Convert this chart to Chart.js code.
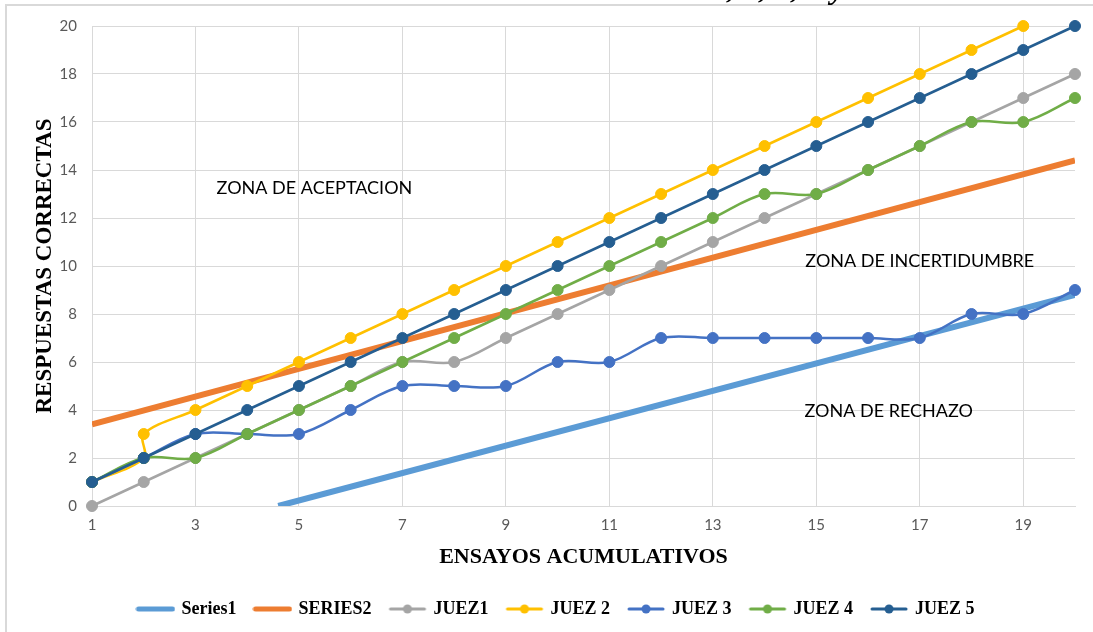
<!DOCTYPE html>
<html>
<head>
<meta charset="utf-8">
<script src="https://cdn.jsdelivr.net/npm/chart.js@4.4.1/dist/chart.umd.min.js"></script>
<style>
html, body { margin: 0; padding: 0; background: #fff; }
#wrap { width: 1093px; height: 632px; }
</style>
</head>
<body>
<div id="wrap"><canvas id="chart" width="1093" height="632"></canvas></div>
<script>
// ensayos (eje x) y ticks
var ensayos = [1,2,3,4,5,6,7,8,9,10,11,12,13,14,15,16,17,18,19,20]
var xTicks = [1,3,5,7,9,11,13,15,17,19]

// lineas de decision
var series1X = [4.6, 20]
var series1Y = [0, 8.8]
var series2X = [1, 20]
var series2Y = [3.4, 14.4]

// respuestas correctas por juez
var juez1 = [0,1,2,3,4,5,6,6,7,8,9,10,11,12,13,14,15,16,17,18]
var juez2X = [1,2,2,3,4,5,6,7,8,9,10,11,12,13,14,15,16,17,18,19]
var juez2 = [1,2,3,4,5,6,7,8,9,10,11,12,13,14,15,16,17,18,19,20]
var juez3 = [1,2,3,3,3,4,5,5,5,6,6,7,7,7,7,7,7,8,8,9]
var juez4 = [1,2,2,3,4,5,6,7,8,9,10,11,12,13,13,14,15,16,16,17]
var juez5 = [1,2,3,4,5,6,7,8,9,10,11,12,13,14,15,16,17,18,19,20]

var zonas = [
    { text: 'ZONA DE ACEPTACION', x: 5.3, y: 13.25 },
    { text: 'ZONA DE INCERTIDUMBRE', x: 17.0, y: 10.2 },
    { text: 'ZONA DE RECHAZO', x: 16.4, y: 3.95 }
]

function pts(xs, ys) {
    return ys.map(function(y, i) { return { x: xs[i], y: y } })
}

function juezDs(label, color, xs, ys) {
    return {
        label: label,
        data: pts(xs, ys),
        borderColor: color,
        backgroundColor: color,
        borderWidth: 2.5,
        pointRadius: 5.5,
        pointBackgroundColor: color,
        pointBorderColor: color,
        pointBorderWidth: 1,
        tension: 0.35,
        clip: false,
        marker: true
    }
}

function lineDs(label, color, xs, ys) {
    return {
        label: label,
        data: pts(xs, ys),
        borderColor: color,
        backgroundColor: color,
        borderWidth: 6,
        pointRadius: 0,
        tension: 0,
        marker: false
    }
}

var datasets = [
    lineDs('Series1', '#5B9BD5', series1X, series1Y),
    lineDs('SERIES2', '#ED7D31', series2X, series2Y),
    juezDs('JUEZ1', '#A5A5A5', ensayos, juez1),
    juezDs('JUEZ 2', '#FFC000', juez2X, juez2),
    juezDs('JUEZ 3', '#4472C4', ensayos, juez3),
    juezDs('JUEZ 4', '#70AD47', ensayos, juez4),
    juezDs('JUEZ 5', '#255E91', ensayos, juez5)
]
// later series drawn on top, like the original
datasets.forEach(function(ds, i) { ds.order = datasets.length - i })

function legendIcon(color, width, marker) {
    var c = document.createElement('canvas')
    c.width = 40
    c.height = 14
    var g = c.getContext('2d')
    g.strokeStyle = color
    g.lineWidth = width
    g.lineCap = 'round'
    g.beginPath()
    g.moveTo(3, 7)
    g.lineTo(37, 7)
    g.stroke()
    if (marker) {
        g.fillStyle = color
        g.beginPath()
        g.arc(20, 7, 4.5, 0, Math.PI * 2)
        g.fill()
    }
    return c
}
var icons = datasets.map(function(ds) {
    return legendIcon(ds.borderColor, ds.marker ? 3 : 5, ds.marker)
})

var marco = {
    id: 'marco',
    afterLayout: function(chart) {
        // the legend sits a bit right of centre in the original
        chart.legend.left += 38
    },
    beforeDraw: function(chart) {
        var c = chart.ctx
        c.save()
        c.fillStyle = '#fff'
        c.fillRect(0, 0, chart.width, chart.height)
        c.strokeStyle = '#d9d9d9'
        c.lineWidth = 2
        c.beginPath()
        c.moveTo(6, chart.height)
        c.lineTo(6, 5)
        c.lineTo(chart.width, 5)
        c.stroke()
        c.restore()
    },
    afterDraw: function(chart) {
        var c = chart.ctx
        var xs = chart.scales.x
        var ys = chart.scales.y
        c.save()
        c.fillStyle = '#000'
        c.font = '18px Lato'
        c.textAlign = 'center'
        c.textBaseline = 'middle'
        zonas.forEach(function(z) {
            c.fillText(z.text, xs.getPixelForValue(z.x), ys.getPixelForValue(z.y))
        })
        // titulo del documento, cortado por el borde superior
        c.font = 'italic bold 32px "Liberation Serif"'
        c.textAlign = 'left'
        c.textBaseline = 'alphabetic'
        c.fillText('1, 2, 3, 4 y 5', 711, -2.5)
        c.restore()
    }
}

var ctx = document.getElementById('chart').getContext('2d')
var chart = new Chart(ctx, {
    type: 'line',
    data: { datasets: datasets },
    plugins: [marco],
    options: {
        responsive: false,
        animation: false,
        layout: { padding: { top: 26, right: 18, bottom: 4, left: 0 } },
        scales: {
            x: {
                type: 'linear',
                min: 1,
                max: 20,
                afterBuildTicks: function(scale) {
                    scale.ticks = xTicks.map(function(v) { return { value: v } })
                },
                afterFit: function(scale) { scale.height = 75 },
                grid: { color: '#d9d9d9', drawTicks: false },
                border: { color: '#d9d9d9' },
                ticks: { color: '#595959', font: { family: 'Lato', size: 15 }, padding: 10 },
                title: {
                    display: true,
                    text: 'ENSAYOS ACUMULATIVOS',
                    color: '#000',
                    font: { family: 'Liberation Serif', size: 22, weight: 'bold' },
                    padding: { top: 0, bottom: 10 }
                }
            },
            y: {
                min: 0,
                max: 20,
                afterFit: function(scale) { scale.width = 92 },
                grid: { color: '#d9d9d9', drawTicks: false },
                border: { color: '#d9d9d9' },
                ticks: { stepSize: 2, color: '#595959', font: { family: 'Lato', size: 15 }, padding: 15 },
                title: {
                    display: true,
                    text: 'RESPUESTAS CORRECTAS',
                    color: '#000',
                    font: { family: 'Liberation Serif', size: 23, weight: 'bold' },
                    padding: { top: 31, bottom: 0 }
                }
            }
        },
        plugins: {
            tooltip: { enabled: false },
            legend: {
                position: 'bottom',
                labels: {
                    usePointStyle: true,
                    pointStyleWidth: 34,
                    padding: 19,
                    color: '#000',
                    font: { family: 'Liberation Serif', size: 18, weight: 'bold' },
                    generateLabels: function(chart) {
                        return chart.data.datasets.map(function(ds, i) {
                            return {
                                text: ds.label,
                                pointStyle: icons[i],
                                fillStyle: ds.borderColor,
                                strokeStyle: ds.borderColor,
                                lineWidth: 0,
                                hidden: false,
                                datasetIndex: i,
                                fontColor: '#000'
                            }
                        })
                    }
                }
            }
        }
    }
})
</script>
</body>
</html>
